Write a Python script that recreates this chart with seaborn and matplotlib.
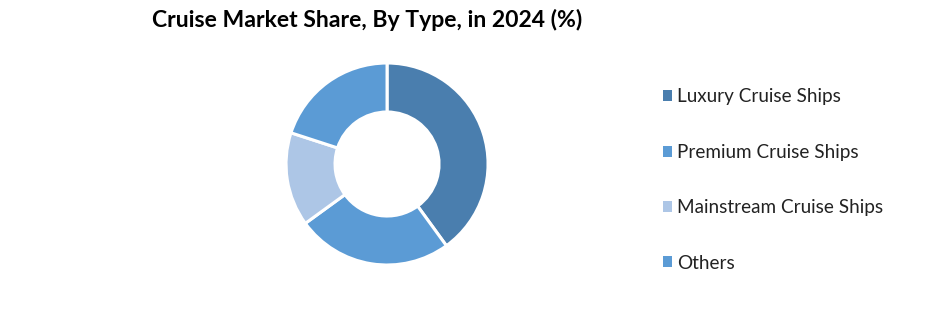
import matplotlib
matplotlib.use("Agg")
import matplotlib.pyplot as plt
import seaborn as sns
from matplotlib.patches import Patch

categories = ["Luxury Cruise Ships", "Premium Cruise Ships", "Mainstream Cruise Ships", "Others"]
shares = [40, 25, 15, 20]
colors = ["#4a7eae", "#5b9bd5", "#adc6e6", "#5b9bd5"]
title = "Cruise Market Share, By Type, in 2024 (%)"

sns.set_theme(style="white")
plt.rcParams["font.family"] = ["Lato", "DejaVu Sans"]

fig = plt.figure(figsize=(9.4, 3.15), dpi=100)
ax = fig.add_axes([0.3043, 0.1587, 0.2149, 0.6413])
ax.pie(shares, colors=colors, startangle=90, counterclock=False, radius=1,
       wedgeprops=dict(width=0.485, edgecolor="white", linewidth=2.2))
ax.set_xlim(-1, 1)
ax.set_ylim(-1, 1)
ax.set_aspect("equal")
ax.axis("off")

fig.text(367 / 940, 1 - 20 / 315, title, ha="center", va="center",
         fontsize=16.6, fontweight="bold", color="black")

handles = [Patch(facecolor=c, edgecolor="none") for c in colors]
fig.legend(handles, categories, loc="center left",
           bbox_to_anchor=(646 / 940, 1 - 180 / 315), frameon=False,
           fontsize=13.6, handlelength=0.5, handleheight=0.5,
           handletextpad=0.25, labelspacing=2.03, labelcolor="#222222")

fig.savefig("out.png", dpi=100, facecolor="white")
